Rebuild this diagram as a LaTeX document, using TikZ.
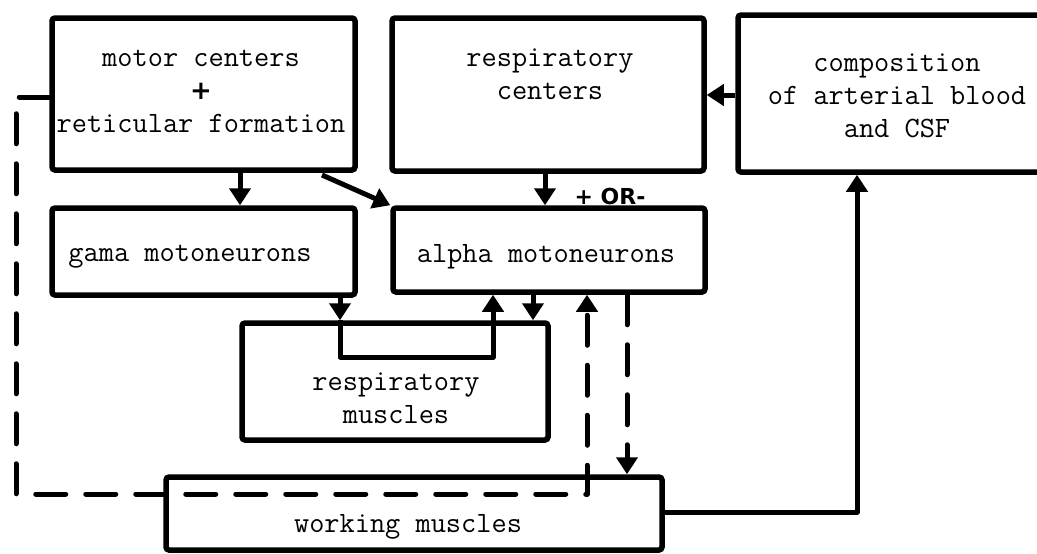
\documentclass[tikz,border=0pt]{standalone}
\usepackage{fontspec}
\newfontfamily\handfont{DejaVu Sans}
\usetikzlibrary{arrows.meta}
\begin{document}
\begin{tikzpicture}[x=1pt,y=-1pt,
  box/.style={draw, line width=5.5pt, rounded corners=3pt, inner sep=0pt},
  lbl/.style={font=\fontsize{29.5}{33}\selectfont\ttfamily, align=center, inner sep=0pt},
  arr/.style={line width=5pt, line join=round, -{Triangle[width=21pt,length=17pt]}},
  dsh/.style={line width=5pt, dash pattern=on 30pt off 20pt, line cap=round, line join=round},
]
\useasboundingbox (0,0) rectangle (1037,554);
\clip (0,0) rectangle (1037,554);

% boxes
\node[box, minimum width=303pt, minimum height=152pt] (motor) at (203.5,94) {};
\node[box, minimum width=312pt, minimum height=153pt] (respC) at (548,94.5) {};
\node[box, minimum width=322pt, minimum height=157pt] (comp) at (899,93.5) {};
\node[box, minimum width=303pt, minimum height=87pt] (gama) at (203.5,251.5) {};
\node[box, minimum width=312pt, minimum height=84pt] (alpha) at (549,250) {};
\node[box, minimum width=306pt, minimum height=117pt] (resp) at (395,381.5) {};
\node[box, minimum width=496pt, minimum height=73pt] (work) at (414,513.5) {};

% labels
\node[lbl] (motorT) at (201,91) {motor centers\\{\handfont\bfseries\fontsize{26}{33}\selectfont +}\\reticular formation};
\node[lbl] (respCT) at (550,74) {respiratory\\centers};
\node[lbl] (compT) at (897,96) {composition\\of arterial blood\\and CSF};
\node[lbl] (gamaT) at (190,257) {gama motoneurons};
\node[lbl] (alphaT) at (546,257) {alpha motoneurons};
\node[lbl] (respT) at (396,398) {respiratory\\muscles};
\node[lbl] (workT) at (408,527) {working muscles};
\node[font=\fontsize{22}{24}\selectfont\handfont\bfseries, inner sep=0pt] (sign) at (610,196) {+ OR-};

% connectors
\draw[arr] (motor.south -| 240,0) -- (gama.north -| 240,0);
\draw[arr] (322,175) -- (alpha.north west);
\draw[arr] (respC.south -| 545,0) -- (alpha.north -| 545,0);
\draw[arr] (comp.west |- 0,95) -- (respC.east |- 0,95);
\draw[arr] (gama.south -| 340,0) -- (resp.north -| 340,0);
\draw[arr] (resp.north -| 340,0) -- (340,357) -- (493,357) -- (alpha.south -| 493,0);
\draw[arr] (alpha.south -| 533,0) -- (resp.north -| 533,0);
\draw[dsh, -{Triangle[width=21pt,length=17pt]}] (motor.west |- 0,97) -- (16,97) -- (16,494) -- (587,494) -- (alpha.south -| 587,0);
\draw[dsh, -{Triangle[width=21pt,length=17pt]}] (alpha.south -| 627,0) -- (work.north -| 627,0);
\draw[arr] (work.east |- 0,512) -- (857,512) -- (comp.south -| 857,0);
\end{tikzpicture}
\end{document}
